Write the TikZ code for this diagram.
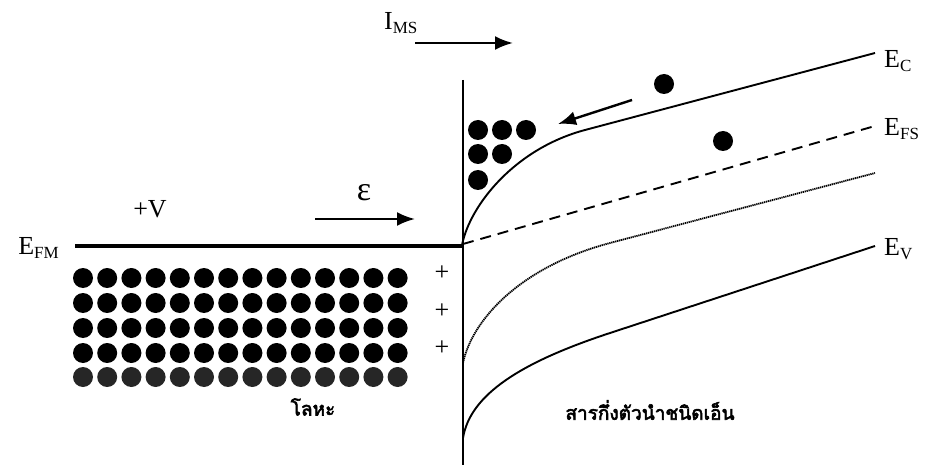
\documentclass[tikz,border=0pt]{standalone}
\usepackage{fontspec}
\setmainfont{Liberation Serif}
\newfontfamily\thaifont[Script=Thai,FakeBold=3]{Loma}
\usetikzlibrary{arrows.meta}
\tikzset{
  lbl/.style={inner sep=0pt, font=\fontsize{26}{28}\selectfont},
  thlbl/.style={inner sep=0pt, font=\thaifont\fontsize{19}{22}\selectfont},
  band/.style={line width=1.9pt},
  arr/.style={line width=2.4pt, -{Latex[length=18pt,width=14pt]}},
  elec/.style={circle, fill=black, inner sep=0pt, minimum size=20pt},
  elecg/.style={circle, fill=black!85, inner sep=0pt, minimum size=20pt},
}
\newcommand{\sub}[1]{\raisebox{-0.3ex}{\fontsize{17}{18}\selectfont #1}}
\begin{document}
\begin{tikzpicture}[x=1pt,y=-1pt]
\useasboundingbox (0,0) rectangle (931,465);
% interface
\coordinate (top) at (463,80);
\coordinate (bot) at (463,465);
\draw[line width=1.6pt] (top) -- (bot);
% metal Fermi level
\coordinate (fm0) at (75,246);
\coordinate (j) at (463,246);
\draw[line width=3.5pt] (fm0) -- (j);
\node[lbl, anchor=east] (efm) at (59,248) {E\sub{FM}};
\node[lbl] (pv) at (150,209) {+V};
\node[lbl] (eps) at (364,193) {\fontsize{34}{36}\selectfont ε};
\coordinate (ea) at (315,219);
\coordinate (eb) at (415,219);
\draw[arr] (ea) -- (eb);
% I_MS
\node[lbl, anchor=west] (ims) at (384,23) {I\sub{MS}};
\coordinate (ia) at (415,43);
\coordinate (ib) at (513,43);
\draw[arr] (ia) -- (ib);
% metal electrons
\foreach \r [count=\ri] in {278,303,328,353} {
  \foreach \c in {0,...,13} {
    \node[elec] (m-\ri-\c) at ({83+24.2*\c},\r) {};
  }
}
\foreach \c in {0,...,13} {
  \node[elecg] (m-5-\c) at ({83+24.2*\c},377) {};
}
% plus signs
\node[lbl] (p1) at (442,273) {+};
\node[lbl] (p2) at (442,311) {+};
\node[lbl] (p3) at (442,348) {+};
% bands
\coordinate (ec0) at (462,245);
\coordinate (ec1) at (585,130);
\coordinate (ec2) at (875,53);
\draw[band] (ec0) .. controls (470,205) and (515,148.6) .. (ec1) -- (ec2);
\node[lbl, anchor=west] (ec) at (884,61) {E\sub{C}};
\coordinate (fs0) at (463,244);
\coordinate (fs1) at (875,126);
\draw[band, dash pattern=on 11pt off 7pt] (fs0) -- (fs1);
\node[lbl, anchor=west] (efs) at (884,129) {E\sub{FS}};
\coordinate (ei0) at (463,363);
\coordinate (ei1) at (610,243);
\coordinate (ei2) at (875,173);
\draw[line width=1.8pt, dash pattern=on 1.3pt off 0.7pt] (ei0) .. controls (472,320) and (520,266.8) .. (ei1) -- (ei2);
\coordinate (ev0) at (463,438);
\coordinate (ev1) at (610,333);
\coordinate (ev2) at (875,246);
\draw[band] (ev0) .. controls (470,395) and (520,362.5) .. (ev1) -- (ev2);
\node[lbl, anchor=west] (ev) at (884,249) {E\sub{V}};
% semiconductor electrons
\node[elec] (s1) at (478,130) {};
\node[elec] (s2) at (502,130) {};
\node[elec] (s3) at (526,130) {};
\node[elec] (s4) at (478,154) {};
\node[elec] (s5) at (502,154) {};
\node[elec] (s6) at (478,180) {};
\node[elec] (f1) at (664,84) {};
\node[elec] (f2) at (723,141) {};
\coordinate (aa) at (632,100);
\coordinate (ab) at (558,124);
\draw[arr] (aa) -- (ab);
% labels
\node[thlbl] (metal) at (313,407) {โลหะ};
\node[thlbl] (semi) at (650,410) {สารกึ่งตัวนำชนิดเอ็น};
\end{tikzpicture}
\end{document}
